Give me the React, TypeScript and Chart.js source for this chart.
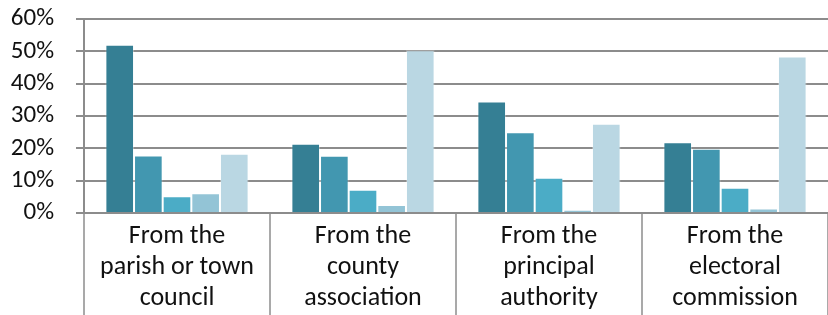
import React, { useEffect, useRef } from "react";
import { Chart, registerables } from "chart.js";

Chart.register(...registerables);

const categories: string[][] = [
  ["From the", "parish or town", "council"],
  ["From the", "county", "association"],
  ["From the", "principal", "authority"],
  ["From the", "electoral", "commission"],
];

const series1 = [0.52, 0.214, 0.345, 0.219];
const series2 = [0.178, 0.177, 0.25, 0.199];
const series3 = [0.052, 0.072, 0.109, 0.078];
const series4 = [0.061, 0.025, 0.01, 0.014];
const series5 = [0.183, 0.503, 0.276, 0.484];

const seriesValues = [series1, series2, series3, series4, series5];
const seriesColors = ["#357F94", "#4297B0", "#4BACC6", "#93C4D6", "#BAD7E3"];

const FONT = "Carlito, Lato, 'Open Sans', sans-serif";

const dividerPlugin = {
  id: "dividers",
  afterDraw(chart: any) {
    const area = chart.chartArea;
    const ctx = chart.ctx;
    const n = chart.data.labels.length;
    const step = (area.right - area.left) / n;
    ctx.save();
    ctx.strokeStyle = "#8c8c8c";
    ctx.lineWidth = 1.5;
    for (let i = 0; i <= n; i++) {
      const px = Math.round(area.left + step * i);
      ctx.beginPath();
      ctx.moveTo(px, area.bottom);
      ctx.lineTo(px, chart.height);
      ctx.stroke();
    }
    ctx.restore();
  },
};

export default function App() {
  const ref = useRef<HTMLCanvasElement | null>(null);

  useEffect(() => {
    document.body.style.margin = "0";
    const canvas = ref.current;
    if (!canvas) return;
    const chart = new Chart(canvas, {
      type: "bar",
      data: {
        labels: categories,
        datasets: seriesValues.map((vals, i) => ({
          label: "S" + (i + 1),
          data: vals,
          backgroundColor: seriesColors[i],
          borderColor: "rgba(255,255,255,0.3)",
          borderWidth: 1,
          categoryPercentage: 0.77,
          barPercentage: 1.0,
        })),
      },
      options: {
        responsive: false,
        animation: false,
        maintainAspectRatio: false,
        layout: { padding: 0 },
        plugins: {
          legend: { display: false },
          tooltip: { enabled: false },
        },
        scales: {
          x: {
            offset: true,
            afterFit: (axis: any) => {
              axis.height = 102;
              axis.paddingTop = 0;
              axis.paddingBottom = 0;
            },
            grid: {
              offset: true,
              drawOnChartArea: false,
              drawTicks: false,
            },
            border: { display: true, color: "#8c8c8c", width: 2 },
            ticks: {
              padding: 8,
              color: "#111",
              font: { family: FONT, size: 26, lineHeight: 1.19 },
              maxRotation: 0,
              autoSkip: false,
            },
          },
          y: {
            min: 0,
            max: 0.6,
            afterFit: (axis: any) => {
              axis.width = 84;
              axis.paddingTop = 19;
              axis.paddingBottom = 0;
            },
            ticks: {
              stepSize: 0.1,
              autoSkip: false,
              padding: 22,
              color: "#111",
              font: { family: FONT, size: 25 },
              callback: (v: any) => Math.round(Number(v) * 100) + "%",
            },
            grid: {
              color: "#8c8c8c",
              lineWidth: 2,
              tickLength: 8,
            },
            border: { display: true, color: "#8c8c8c", width: 2 },
          },
        },
      },
      plugins: [dividerPlugin],
    });
    return () => chart.destroy();
  }, []);

  return (
    <div style={{ width: 828, height: 315 }}>
      <canvas ref={ref} width={828} height={315} style={{ display: "block" }} />
    </div>
  );
}
